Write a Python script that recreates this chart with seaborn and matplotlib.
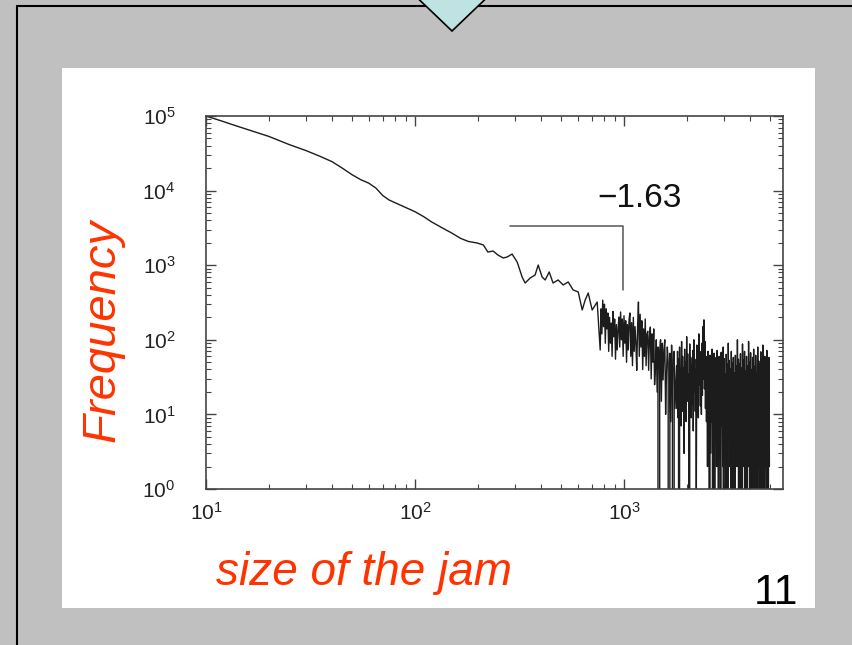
import numpy as np
import pandas as pd
import matplotlib
matplotlib.use("Agg")
import matplotlib.pyplot as plt
import seaborn as sns
from matplotlib import ticker
from matplotlib.lines import Line2D
from matplotlib.patches import Polygon, Rectangle

# ---------------- data ----------------
smooth_size = [10, 12, 14, 17, 20, 25, 30, 35, 40, 45, 50, 55, 60, 65, 70, 75, 80,
               90, 100, 110, 120, 135, 150, 165, 180]
smooth_freq = [100000, 84900, 73500, 61600, 53200, 41400, 34500, 28900, 24500, 19900,
               16300, 14000, 12600, 10800, 8600, 7500, 6900, 5960, 5210, 4470, 3800,
               3160, 2690, 2290, 2080]

wiggle_size = [198, 212, 223, 236, 249, 264, 276, 291, 308, 325, 336, 355, 375, 388,
               405, 419, 438, 457, 483, 511, 540, 570, 603, 630, 651, 673, 703, 743]
wiggle_freq = [1985, 1870, 1500, 1550, 1370, 1250, 1290, 1410, 1100, 695, 577, 673,
               739, 1006, 695, 634, 811, 577, 634, 543, 596, 466, 438, 251, 342, 424,
               251, 321]

# noisy part, sizes ~770 .. 1750 (one value per histogram bin shown)
noisy_freq = [73, 260, 120, 340, 150, 300, 90, 260, 140, 229, 70,
              200, 90, 168, 60, 240, 110, 190, 55, 160, 73, 140,
              202, 80, 236, 100, 190, 60, 210, 90, 180, 50, 160,
              73, 190, 229, 60, 170, 45, 200, 70, 150, 90, 39,
              150, 321, 60, 220, 80, 180, 40, 140, 60, 190, 45, 120,
              130, 39, 110, 148, 30, 120, 50, 140, 25, 43, 100, 20,
              80, 0, 70, 100, 15, 90, 29, 75, 100, 10, 35, 80,
              50, 0, 66, 8, 85, 40, 0, 70, 12]

# tail, sizes ~1780 .. 4950
tail_freq = [45, 12, 70, 9, 55, 0, 80, 14, 38, 7, 95, 11, 60, 18, 42, 3, 75, 10, 50, 8,
             110, 15, 65, 22, 35, 0, 88, 12, 58, 9, 46, 14, 72, 6, 100, 20, 55, 11, 40, 1,
             85, 16, 62, 9, 120, 25, 70, 13, 48, 10, 90, 18, 150, 30, 185, 22, 95, 12, 60, 8,
             55, 2, 70, 5, 48, 0, 62, 3, 40, 8, 75, 1, 52, 4, 66, 0, 45, 6, 58, 2,
             72, 10, 38, 0, 60, 3, 50, 1, 68, 7, 44, 2, 80, 0, 56, 4, 35, 1, 64, 9,
             47, 0, 90, 5, 53, 2, 41, 1, 70, 6, 49, 0, 58, 3, 36, 1, 62, 8, 45, 2,
             100, 4, 55, 0,
             48, 1, 65, 3, 42, 0, 88, 5, 54, 2, 70, 1, 38, 4, 60, 0, 45, 2, 95, 6,
             50, 1, 67, 0, 40, 3, 58, 1, 75, 2, 44, 0, 62, 5, 36, 1, 80, 2, 52, 0,
             47, 3, 69, 1, 55, 0, 85, 4, 43, 1, 60, 2, 50, 0, 72, 3, 46, 1, 58, 2]

noisy_range = (768, 1750)
tail_range = (1780, 4950)

guide_x = [285, 990, 990]
guide_y = [3350, 3350, 465]
slope_label = "\u22121.63"

x_ticks = [10, 100, 1000]
x_tick_labels = ["$10^{1}$", "$10^{2}$", "$10^{3}$"]
y_ticks = [1, 10, 100, 1000, 10000, 100000]
y_tick_labels = ["$10^{0}$", "$10^{1}$", "$10^{2}$", "$10^{3}$", "$10^{4}$", "$10^{5}$"]

x_label = "size of the jam"
y_label = "Frequency"
page_number = "11"

# ---------------- build table ----------------
noisy_size = np.geomspace(noisy_range[0], noisy_range[1], len(noisy_freq))
tail_size = np.geomspace(tail_range[0], tail_range[1], len(tail_freq))
df = pd.DataFrame({
    "size": np.concatenate([smooth_size, wiggle_size, noisy_size, tail_size]).astype(float),
    "freq": np.concatenate([smooth_freq, wiggle_freq, noisy_freq, tail_freq]).astype(float),
})

# ---------------- figure ----------------
sns.set_style("ticks")
plt.rcParams["font.family"] = ["Liberation Sans", "DejaVu Sans"]
plt.rcParams["mathtext.fontset"] = "custom"
plt.rcParams["mathtext.rm"] = "Liberation Sans"
plt.rcParams["mathtext.it"] = "Liberation Sans:italic"
plt.rcParams["mathtext.default"] = "regular"

W, H = 852, 645
fig = plt.figure(figsize=(W / 100, H / 100), dpi=100, facecolor="#c0c0c0")

def fx(px):
    return px / W

def fy(py):
    return 1 - py / H

# slide frame and white panel
fig.add_artist(Rectangle((fx(62), fy(608)), fx(815) - fx(62), fy(68) - fy(608),
                         transform=fig.transFigure, facecolor="white",
                         edgecolor="none", zorder=-2))
fig.add_artist(Line2D([fx(17), fx(17)], [0, fy(6)], transform=fig.transFigure,
                      color="black", lw=1.5, zorder=-1))
fig.add_artist(Line2D([fx(17), 1], [fy(6), fy(6)], transform=fig.transFigure,
                      color="black", lw=1.5, zorder=-1))
fig.add_artist(Polygon([(fx(405), fy(-14)), (fx(499), fy(-14)), (fx(452), fy(31))],
                       closed=True, transform=fig.transFigure, facecolor="#bfe3e3",
                       edgecolor="black", lw=1.2, zorder=5))

ax = fig.add_axes([fx(206), fy(489), fx(783) - fx(206), fy(116) - fy(489)])
ax.set_facecolor("white")
ax.set_xscale("log")
ax.set_yscale("log")

sns.lineplot(data=df, x="size", y="freq", estimator=None, sort=False,
             color="#1c1c1c", lw=1.0, ax=ax, legend=False)

ax.plot(guide_x, guide_y, color="#555555", lw=1.1)

ax.set_xlim(10, 5750)
ax.set_ylim(1, 100000)

ax.set_xticks(x_ticks)
ax.set_xticklabels(x_tick_labels)
ax.set_yticks(y_ticks)
ax.set_yticklabels(y_tick_labels)
ax.xaxis.set_minor_locator(ticker.LogLocator(base=10, subs=np.arange(2, 10), numticks=20))
ax.yaxis.set_minor_locator(ticker.LogLocator(base=10, subs=np.arange(2, 10), numticks=20))
ax.xaxis.set_minor_formatter(ticker.NullFormatter())
ax.yaxis.set_minor_formatter(ticker.NullFormatter())

ax.tick_params(which="both", direction="in", top=True, right=True, colors="#444444",
               labelcolor="#222222", labelsize=15)
ax.tick_params(which="major", length=7, width=1)
ax.tick_params(which="minor", length=3.5, width=0.8)
ax.tick_params(axis="x", pad=9)
ax.tick_params(axis="y", pad=22)
for sp in ax.spines.values():
    sp.set_color("#444444")
    sp.set_linewidth(1.2)
ax.set_xlabel("")
ax.set_ylabel("")

fig.text(fx(640), fy(207), slope_label, fontsize=24, color="#111111",
         ha="center", va="baseline")

red = "#ff3300"
fig.text(fx(103), fy(330), y_label, rotation=90, fontsize=34, style="italic",
         color=red, ha="center", va="center")
fig.text(fx(364), fy(585), x_label, fontsize=33, style="italic", color=red,
         ha="center", va="baseline")
fig.text(fx(798), fy(604), page_number, fontsize=31, color="black",
         ha="right", va="baseline")

fig.savefig("out.png", dpi=100, facecolor=fig.get_facecolor())
